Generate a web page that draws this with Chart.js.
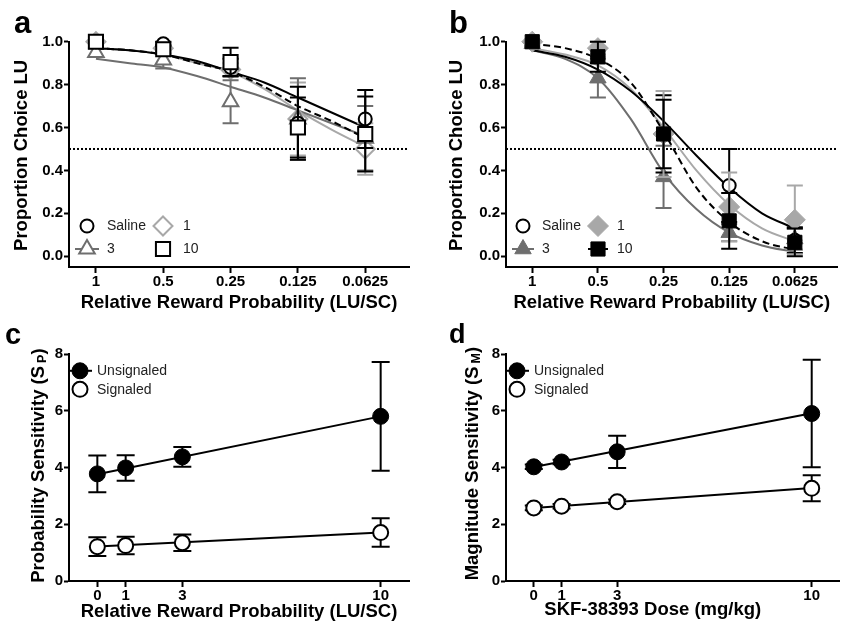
<!DOCTYPE html>
<html><head><meta charset="utf-8">
<script src="https://cdn.jsdelivr.net/npm/chart.js@4/dist/chart.umd.min.js"></script>
<style>
html,body{margin:0;padding:0;background:#fff;}
body{width:849px;height:627px;position:relative;overflow:hidden;}
canvas{position:absolute;}
</style></head><body>
<canvas id="ca" width="425" height="320" style="left:0;top:0"></canvas>
<canvas id="cb" width="424" height="320" style="left:425px;top:0"></canvas>
<canvas id="cc" width="425" height="307" style="left:0;top:320px"></canvas>
<canvas id="cd" width="424" height="307" style="left:425px;top:320px"></canvas>
<script>
// ---------- data ----------
const probLabels = ['1', '0.5', '0.25', '0.125', '0.0625'];
const probPos = [0, 1, 2, 3, 4];
const curvePos = [0, 0.5, 1, 1.5, 2, 2.5, 3, 3.5, 4];
const doseLevels = [0, 1, 3, 10];
const fitDose = [0, 10];
const propTicks = [0, 0.2, 0.4, 0.6, 0.8, 1.0];
const sensTicks = [0, 2, 4, 6, 8];
const chanceLevel = 0.5;
const seriesNames = ['Saline', '1', '3', '10'];

// panel a
const aSaline = [1.00, 0.99, 0.88, 0.62, 0.64];
const aSalineErr = [0, 0.01, 0.04, 0.17, 0.135];
const a1mg = [1.00, 0.97, 0.87, 0.64, 0.50];
const a1mgErr = [0, 0.02, 0.03, 0.17, 0.12];
const a3mg = [0.95, 0.915, 0.72, 0.64, 0.55];
const a3mgErr = [0.02, 0.04, 0.10, 0.19, 0.15];
const a10mg = [1.00, 0.965, 0.905, 0.60, 0.57];
const a10mgErr = [0, 0.02, 0.067, 0.14, 0.175];
const aSalineFit = [0.97, 0.96, 0.94, 0.91, 0.86, 0.81, 0.74, 0.67, 0.60];
const a1mgFit = [0.97, 0.96, 0.94, 0.90, 0.86, 0.78, 0.68, 0.59, 0.51];
const a3mgFit = [0.92, 0.90, 0.88, 0.84, 0.79, 0.74, 0.68, 0.62, 0.56];
const a10mgFit = [0.97, 0.96, 0.94, 0.90, 0.86, 0.79, 0.70, 0.63, 0.55];

// panel b
const bSaline = [1.00, 0.93, 0.57, 0.33, 0.075];
const bSalineErr = [0, 0.03, 0.18, 0.17, 0.06];
const b1mg = [1.00, 0.97, 0.57, 0.23, 0.17];
const b1mgErr = [0, 0.03, 0.20, 0.16, 0.16];
const b3mg = [0.99, 0.83, 0.37, 0.11, 0.08];
const b3mgErr = [0.01, 0.09, 0.145, 0.04, 0.05];
const b10mg = [1.00, 0.93, 0.57, 0.165, 0.065];
const b10mgErr = [0, 0.07, 0.16, 0.13, 0.065];
const bSalineFit = [0.96, 0.93, 0.87, 0.77, 0.63, 0.47, 0.32, 0.20, 0.13];
const b1mgFit = [0.97, 0.94, 0.89, 0.78, 0.60, 0.40, 0.24, 0.13, 0.07];
const b3mgFit = [0.96, 0.92, 0.83, 0.64, 0.39, 0.22, 0.11, 0.05, 0.02];
const b10mgFit = [0.99, 0.97, 0.92, 0.81, 0.58, 0.32, 0.16, 0.07, 0.03];

// panel c
const cUnsig = [3.78, 3.99, 4.38, 5.81];
const cUnsigErr = [0.65, 0.45, 0.35, 1.92];
const cSig = [1.21, 1.25, 1.35, 1.71];
const cSigErr = [0.33, 0.31, 0.29, 0.50];
const cUnsigFit = [3.77, 5.81];
const cSigFit = [1.22, 1.71];

// panel d
const dUnsig = [4.03, 4.20, 4.56, 5.91];
const dUnsigErr = [0.08, 0.08, 0.57, 1.90];
const dSig = [2.58, 2.64, 2.80, 3.27];
const dSigErr = [0.08, 0.08, 0.08, 0.46];
const dUnsigFit = [4.02, 5.92];
const dSigFit = [2.58, 3.28];

// ---------- helpers ----------
const FONT = "'Liberation Sans', Arial, Helvetica, sans-serif";
const BLACK = '#000000', LGRAY = '#a8a8a8', DGRAY = '#6e6e6e';
const pts = (xs, ys) => xs.map((x, i) => ({ x: x, y: ys[i] }));

function drawMarker(ctx, style, r, fill, stroke, bw, x, y) {
  ctx.save();
  ctx.fillStyle = fill; ctx.strokeStyle = stroke; ctx.lineWidth = bw;
  if (Chart.helpers && Chart.helpers.drawPoint) {
    Chart.helpers.drawPoint(ctx, { pointStyle: style, radius: r, rotation: 0, borderWidth: bw }, x, y);
  } else {
    ctx.beginPath(); ctx.arc(x, y, r, 0, Math.PI * 2); ctx.fill(); if (bw) ctx.stroke();
  }
  ctx.restore();
}

const decor = {
  id: 'decor',
  beforeDatasetDraw(chart, args, opts) {
    const ds = chart.data.datasets[args.index];
    if (!ds.errors) return;
    const xs = chart.scales.x, ys = chart.scales.y, ctx = chart.ctx;
    ctx.save();
    ctx.strokeStyle = ds.pointBorderColor || ds.borderColor;
    ctx.lineWidth = 2;
    const c = opts.cap;
    ds.data.forEach((p, i) => {
      const e = ds.errors[i];
      if (!e) return;
      const x = xs.getPixelForValue(p.x);
      const y1 = ys.getPixelForValue(p.y + e), y2 = ys.getPixelForValue(p.y - e);
      ctx.beginPath();
      ctx.moveTo(x, y1); ctx.lineTo(x, y2);
      ctx.moveTo(x - c, y1); ctx.lineTo(x + c, y1);
      ctx.moveTo(x - c, y2); ctx.lineTo(x + c, y2);
      ctx.stroke();
    });
    ctx.restore();
  },
  afterDraw(chart, args, o) {
    const ctx = chart.ctx, A = chart.chartArea;
    ctx.save();
    // panel letter
    ctx.fillStyle = '#000';
    ctx.font = 'bold ' + o.letter.size + 'px ' + FONT;
    ctx.textAlign = 'left'; ctx.textBaseline = 'alphabetic';
    ctx.fillText(o.letter.text, o.letter.x, o.letter.y);
    // x title
    ctx.font = 'bold 18.5px ' + FONT;
    ctx.textAlign = 'center'; ctx.textBaseline = 'middle';
    ctx.fillText(o.xTitle.text, (A.left + A.right) / 2 + (o.xTitle.dx || 0), A.bottom + o.xTitle.dy);
    // y title (rotated, optional subscript)
    ctx.save();
    ctx.translate(o.yTitle.x, (A.top + A.bottom) / 2 + (o.yTitle.dy || 0));
    ctx.rotate(-Math.PI / 2);
    ctx.textAlign = 'left';
    const mainF = 'bold 18.5px ' + FONT, subF = 'bold 12.5px ' + FONT;
    ctx.font = mainF;
    const w1 = ctx.measureText(o.yTitle.text).width;
    let w2 = 0, w3 = 0, gap = 0;
    if (o.yTitle.sub) {
      ctx.font = subF; w2 = ctx.measureText(o.yTitle.sub).width;
      ctx.font = mainF; w3 = ctx.measureText(')').width; gap = 3;
    }
    const tot = w1 + gap + w2 + w3;
    let px = -tot / 2;
    ctx.font = mainF; ctx.fillText(o.yTitle.text, px, 0); px += w1 + gap;
    if (o.yTitle.sub) {
      ctx.font = subF; ctx.fillText(o.yTitle.sub, px, 4); px += w2;
      ctx.font = mainF; ctx.fillText(')', px, 0);
    }
    ctx.restore();
    // legend
    ctx.font = '14px ' + FONT;
    ctx.textAlign = 'left'; ctx.textBaseline = 'middle';
    o.legend.items.forEach(it => {
      const ds = chart.data.datasets[it.ds];
      const x = A.left + it.dx, y = it.top ? A.top + it.dy : A.bottom + it.dy;
      if (it.line) {
        ctx.save();
        ctx.strokeStyle = it.line.color; ctx.lineWidth = 2; ctx.setLineDash(it.line.dash || []);
        ctx.beginPath(); ctx.moveTo(x - it.line.half, y); ctx.lineTo(x + it.line.half, y); ctx.stroke();
        ctx.restore();
      }
      drawMarker(ctx, ds.pointStyle, ds.pointRadius, ds.pointBackgroundColor, ds.pointBorderColor, ds.pointBorderWidth, x, y);
      ctx.fillStyle = '#222';
      ctx.fillText(ds.label, x + o.legend.textGap, y + 0.5);
    });
    ctx.restore();
  }
};

function axisX(min, max, tickVals, fmt, h) {
  return {
    type: 'linear', min: min, max: max,
    afterBuildTicks: s => { s.ticks = tickVals.map(v => ({ value: v })); },
    afterFit: s => { s.height = h; },
    ticks: { callback: fmt, font: { family: FONT, size: 15, weight: 'bold' }, color: '#000', padding: 0, maxRotation: 0, autoSkip: false },
    grid: { display: true, drawOnChartArea: false, drawTicks: true, tickLength: 6, tickWidth: 2, tickColor: '#000' },
    border: { display: true, color: '#000', width: 2 }
  };
}
function axisY(min, max, tickVals, fmt, w) {
  return {
    type: 'linear', min: min, max: max,
    afterBuildTicks: s => { s.ticks = tickVals.map(v => ({ value: v })); },
    afterFit: s => { s.width = w; },
    ticks: { callback: fmt, font: { family: FONT, size: 15, weight: 'bold' }, color: '#000', padding: 1, autoSkip: false },
    grid: { display: true, drawOnChartArea: false, drawTicks: true, tickLength: 5, tickWidth: 2, tickColor: '#000' },
    border: { display: true, color: '#000', width: 2 }
  };
}

function markerDS(label, xs, ys, errs, style, r, fill, stroke, bw) {
  return { label: label, data: pts(xs, ys), errors: errs, showLine: false, clip: false,
    pointStyle: style, pointRadius: r, pointHoverRadius: r, pointBackgroundColor: fill,
    pointBorderColor: stroke, pointBorderWidth: bw, borderColor: stroke, backgroundColor: fill };
}
function lineDS(xs, ys, color, dash, tension) {
  return { label: '', data: pts(xs, ys), showLine: true, clip: false, borderColor: color, borderWidth: 2,
    borderDash: dash || [], pointRadius: 0, pointHoverRadius: 0, tension: tension || 0,
    cubicInterpolationMode: tension ? 'monotone' : 'default', fill: false };
}

const probFmt = v => { const i = probPos.indexOf(v); return i >= 0 ? probLabels[i] : ''; };
const propFmt = v => v.toFixed(1);
const intFmt = v => String(v);

function build(id, datasets, scales, padding, decorOpts) {
  return new Chart(document.getElementById(id), {
    type: 'scatter',
    data: { datasets: datasets },
    options: {
      responsive: false, animation: false, events: [],
      layout: { padding: padding },
      scales: scales,
      plugins: { legend: { display: false }, tooltip: { enabled: false }, decor: decorOpts }
    },
    plugins: [decor]
  });
}

// ---------- panel a ----------
build('ca', [
  markerDS(seriesNames[3], probPos, a10mg, a10mgErr, 'rect', 10, '#fff', BLACK, 2),
  markerDS(seriesNames[0], probPos, aSaline, aSalineErr, 'circle', 6.5, '#fff', BLACK, 2),
  markerDS(seriesNames[2], probPos, a3mg, a3mgErr, 'triangle', 9, '#fff', DGRAY, 2),
  markerDS(seriesNames[1], probPos, a1mg, a1mgErr, 'rectRot', 9.5, '#fff', LGRAY, 2),
  lineDS(curvePos, a10mgFit, BLACK, [7, 4], 0.4),
  lineDS(curvePos, aSalineFit, BLACK, [], 0.4),
  lineDS(curvePos, a3mgFit, DGRAY, [], 0.4),
  lineDS(curvePos, a1mgFit, LGRAY, [], 0.4),
  lineDS([-0.4, 4.65], [chanceLevel, chanceLevel], BLACK, [2, 2], 0)
], {
  x: axisX(-0.4, 4.65, probPos, probFmt, 53),
  y: axisY(-0.05, 1.0, propTicks, propFmt, 69)
}, { left: 0, top: 41.7, right: 16, bottom: 0 }, {
  cap: 8,
  letter: { text: 'a', x: 14, y: 33, size: 31 },
  xTitle: { text: 'Relative Reward Probability (LU/SC)', dy: 36 },
  yTitle: { text: 'Proportion Choice LU', x: 21.5, dy: 1 },
  legend: { textGap: 20, items: [
    { ds: 1, dx: 18, dy: -41 },
    { ds: 3, dx: 94, dy: -41 },
    { ds: 2, dx: 18, dy: -18, line: { color: DGRAY, half: 12 } },
    { ds: 0, dx: 94, dy: -18 }
  ] }
});

// ---------- panel b ----------
build('cb', [
  markerDS(seriesNames[3], probPos, b10mg, b10mgErr, 'rect', 10, BLACK, BLACK, 1),
  markerDS(seriesNames[1], probPos, b1mg, b1mgErr, 'rectRot', 10.5, LGRAY, LGRAY, 1),
  markerDS(seriesNames[0], probPos, bSaline, bSalineErr, 'circle', 6.5, '#fff', BLACK, 2),
  markerDS(seriesNames[2], probPos, b3mg, b3mgErr, 'triangle', 9.5, DGRAY, DGRAY, 1),
  lineDS(curvePos, b10mgFit, BLACK, [7, 4], 0.4),
  lineDS(curvePos, bSalineFit, BLACK, [], 0.4),
  lineDS(curvePos, b1mgFit, LGRAY, [], 0.4),
  lineDS(curvePos, b3mgFit, DGRAY, [], 0.4),
  lineDS([-0.4, 4.65], [chanceLevel, chanceLevel], BLACK, [2, 2], 0)
], {
  x: axisX(-0.4, 4.65, probPos, probFmt, 53),
  y: axisY(-0.05, 1.0, propTicks, propFmt, 81)
}, { left: 0, top: 41.7, right: 4, bottom: 0 }, {
  cap: 8,
  letter: { text: 'b', x: 24, y: 33, size: 31 },
  xTitle: { text: 'Relative Reward Probability (LU/SC)', dy: 36 },
  yTitle: { text: 'Proportion Choice LU', x: 32, dy: 1 },
  legend: { textGap: 19, items: [
    { ds: 2, dx: 17, dy: -41 },
    { ds: 1, dx: 92, dy: -41 },
    { ds: 3, dx: 17, dy: -18, line: { color: DGRAY, half: 11 } },
    { ds: 0, dx: 92, dy: -18, line: { color: BLACK, half: 10 } }
  ] }
});

// ---------- panel c ----------
build('cc', [
  markerDS('Signaled', doseLevels, cSig, cSigErr, 'circle', 7.5, '#fff', BLACK, 2),
  markerDS('Unsignaled', doseLevels, cUnsig, cUnsigErr, 'circle', 8, BLACK, BLACK, 1),
  lineDS(fitDose, cUnsigFit, BLACK, [], 0),
  lineDS(fitDose, cSigFit, BLACK, [], 0)
], {
  x: axisX(-1, 11, doseLevels, intFmt, 46),
  y: axisY(0, 8, sensTicks, intFmt, 69)
}, { left: 0, top: 34.3, right: 16, bottom: 0 }, {
  cap: 9,
  letter: { text: 'c', x: 5, y: 24, size: 29 },
  xTitle: { text: 'Relative Reward Probability (LU/SC)', dy: 31 },
  yTitle: { text: 'Probability Sensitivity (S', sub: 'P', x: 39, dy: -2 },
  legend: { textGap: 17, items: [
    { ds: 1, dx: 11, dy: 16.5, top: true, line: { color: BLACK, half: 12 } },
    { ds: 0, dx: 11, dy: 35, top: true }
  ] }
});

// ---------- panel d ----------
build('cd', [
  markerDS('Signaled', doseLevels, dSig, dSigErr, 'circle', 7.5, '#fff', BLACK, 2),
  markerDS('Unsignaled', doseLevels, dUnsig, dUnsigErr, 'circle', 8, BLACK, BLACK, 1),
  lineDS(fitDose, dUnsigFit, BLACK, [], 0),
  lineDS(fitDose, dSigFit, BLACK, [], 0)
], {
  x: axisX(-1, 11, doseLevels, intFmt, 46),
  y: axisY(0, 8, sensTicks, intFmt, 81)
}, { left: 0, top: 34.3, right: 4, bottom: 0 }, {
  cap: 9,
  letter: { text: 'd', x: 24, y: 23, size: 27 },
  xTitle: { text: 'SKF-38393 Dose (mg/kg)', dx: -20, dy: 29 },
  yTitle: { text: 'Magnitude Sensitivity (S', sub: 'M', x: 48, dy: -4 },
  legend: { textGap: 17, items: [
    { ds: 1, dx: 11, dy: 16.5, top: true, line: { color: BLACK, half: 12 } },
    { ds: 0, dx: 11, dy: 35, top: true }
  ] }
});
</script>
</body></html>
